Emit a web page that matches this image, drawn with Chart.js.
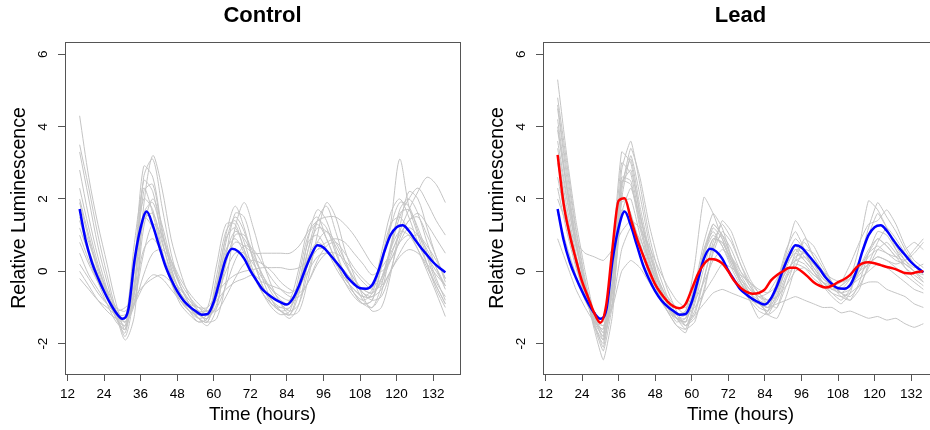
<!DOCTYPE html>
<html>
<head>
<meta charset="utf-8">
<script src="https://cdn.jsdelivr.net/npm/chart.js@4/dist/chart.umd.min.js"></script>
<style>
  html, body { margin: 0; padding: 0; background: #fff; overflow: hidden; width: 930px; height: 430px; }
  .panel { position: absolute; top: 0; width: 478px; height: 430px; }
  #left { left: 0; }
  #right { left: 478px; }
</style>
</head>
<body>
<div class="panel" id="left"><canvas id="controlChart" width="478" height="430"></canvas></div>
<div class="panel" id="right"><canvas id="leadChart" width="478" height="430"></canvas></div>
<script>
// axis ticks and limits
const xTicks = [12, 24, 36, 48, 60, 72, 84, 96, 108, 120, 132];
const yTicks = [-2, 0, 2, 4, 6];
const xMin = 11.2, xMax = 140.8;
const yMin = -2.84, yMax = 6.34;

// time points (hours)
const hoursMean = [16, 18, 20, 22, 24, 26, 28, 30, 32, 34, 36, 38, 40, 42, 44, 46, 48, 50, 52, 54,
  56, 58, 60, 62, 64, 66, 68, 70, 72, 74, 76, 78, 80, 82, 84, 86, 88, 90, 92, 94,
  96, 98, 100, 102, 104, 106, 108, 110, 112, 114, 116, 118, 120, 122, 124, 126, 128, 130, 132, 134, 136];
const hoursTrace = [16, 19, 22, 25, 28, 31, 34, 37, 40, 43, 46, 49, 52, 55, 58, 61, 64, 67, 70, 73,
  76, 79, 82, 85, 88, 91, 94, 97, 100, 103, 106, 109, 112, 115, 118, 121, 124, 127, 130, 133, 136];

// mean curves
const controlMean = [1.72, 0.85, 0.25, -0.18, -0.55, -0.88, -1.15, -1.31, -1.05, 0.3, 1.2, 1.65, 1.27, 0.72, 0.18, -0.22, -0.55, -0.8, -0.97, -1.1,
  -1.2, -1.18, -0.85, -0.25, 0.35, 0.62, 0.55, 0.35, 0.02, -0.25, -0.5, -0.65, -0.77, -0.86, -0.92, -0.75, -0.4, 0.05, 0.45, 0.72,
  0.66, 0.47, 0.27, 0.06, -0.18, -0.35, -0.47, -0.48, -0.38, 0.0, 0.55, 1.0, 1.22, 1.27, 1.12, 0.88, 0.65, 0.45, 0.25, 0.1, -0.03];
const leadMean = [3.22, 1.85, 1.0, 0.33, -0.28, -0.72, -1.15, -1.42, -0.9, 0.65, 1.95, 2.02, 1.45, 0.9, 0.45, 0.02, -0.36, -0.62, -0.83, -0.97,
  -1.02, -0.9, -0.5, -0.08, 0.2, 0.34, 0.32, 0.22, 0.0, -0.27, -0.45, -0.57, -0.62, -0.6, -0.5, -0.25, -0.1, 0.0, 0.1, 0.1,
  0.0, -0.14, -0.3, -0.4, -0.45, -0.4, -0.3, -0.22, -0.1, 0.1, 0.22, 0.25, 0.22, 0.17, 0.12, 0.08, 0.02, -0.05, -0.06, -0.02, 0.0];

// individual traces, control
const controlTraces = [
  [4.3, 2.6, 1.3, 0.2, -0.9, -1.6, 0.2, 2.9, 2.6, 1.2, 0.1, -0.6, -1.0, -1.3, -1.4, -0.4, 1.0, 1.8, 1.2, 0.3, -0.4, -0.8, -1.1, -1.2, -0.4, 0.9, 1.7, 1.4, 0.6, -0.1, -0.6, -0.9, -0.8, 0.1, 1.2, 1.9, 1.8, 1.1, 0.4, -0.3, -0.7],
  [3.5, 2.3, 1.0, -0.1, -1.1, -1.8, -0.5, 2.6, 3.1, 1.8, 0.5, -0.4, -0.9, -1.3, -1.5, -1.0, 0.4, 1.6, 1.5, 0.6, -0.2, -0.8, -1.1, -1.3, -0.9, 0.3, 1.4, 1.8, 1.1, 0.3, -0.3, -0.8, -1.0, -0.6, 0.6, 1.7, 2.0, 1.6, 0.8, 0.1, -0.5],
  [3.3, 2.0, 0.7, -0.3, -1.2, -1.9, -1.2, 1.8, 3.2, 2.3, 0.9, 0.0, -0.7, -1.1, -1.4, -1.3, -0.3, 1.2, 1.9, 1.2, 0.3, -0.4, -0.9, -1.2, -1.1, -0.2, 1.0, 1.9, 1.5, 0.6, -0.1, -0.7, -1.1, -1.0, -0.1, 1.2, 2.2, 2.0, 1.2, 0.4, -0.2],
  [2.8, 1.5, 0.4, -0.5, -1.3, -1.7, 0.0, 2.5, 2.2, 0.9, -0.1, -0.7, -1.1, -1.4, -1.3, -0.1, 1.1, 1.4, 0.8, 0.0, -0.6, -1.0, -1.2, -1.1, -0.1, 1.0, 1.3, 0.9, 0.3, -0.3, -0.7, -0.9, -0.8, 0.2, 1.3, 3.1, 1.8, 1.0, 0.2, -0.5, -1.0],
  [2.3, 1.2, 0.2, -0.6, -1.3, -1.6, -0.4, 2.2, 2.4, 1.1, 0.1, -0.6, -1.0, -1.3, -1.4, -0.6, 0.8, 1.5, 1.1, 0.3, -0.4, -0.9, -1.1, -1.2, -0.6, 0.6, 1.4, 1.2, 0.5, -0.1, -0.6, -0.9, -1.0, -0.4, 0.7, 1.6, 1.7, 1.2, 0.5, -0.2, -0.8],
  [1.9, 0.9, 0.0, -0.7, -1.3, -1.5, 0.3, 2.0, 1.7, 0.6, -0.3, -0.9, -1.2, -1.4, -1.3, -0.3, 0.9, 1.2, 0.6, -0.1, -0.6, -0.9, -1.1, -1.0, -0.3, 0.8, 1.0, 0.6, 0.1, -0.3, -0.6, -0.8, -0.6, 0.3, 1.3, 1.5, 1.1, 0.6, 0.0, -0.6, -1.25],
  [1.5, 0.8, 0.1, -0.5, -1.0, -1.4, -0.9, 1.2, 2.0, 1.3, 0.3, -0.4, -0.9, -1.2, -1.3, -0.9, 0.2, 1.0, 1.0, 0.5, -0.1, -0.6, -0.9, -1.1, -0.9, 0.0, 0.8, 1.1, 0.8, 0.3, -0.2, -0.6, -0.8, -0.7, 0.0, 0.9, 1.4, 1.5, 1.0, 0.4, -0.3],
  [1.0, 0.3, -0.3, -0.9, -1.4, -1.6, 0.1, 1.5, 1.2, 0.4, -0.3, -0.8, -1.1, -1.3, -1.2, -0.4, 0.6, 0.9, 0.5, -0.1, -0.5, -0.8, -1.0, -1.0, -0.5, 0.4, 0.8, 0.6, 0.2, -0.2, -0.5, -0.7, -0.7, -0.2, 0.6, 1.1, 1.0, 0.6, 0.1, -0.4, -0.9],
  [0.8, 0.2, -0.3, -0.7, -1.0, -1.1, -0.6, 0.6, 0.9, 0.5, -0.1, -0.5, -0.8, -1.0, -1.1, -0.7, 0.0, 0.5, 0.5, 0.2, -0.2, -0.5, -0.7, -0.8, -0.5, 0.2, 0.6, 0.6, 0.3, 0.0, -0.3, -0.5, -0.6, -0.3, 0.3, 0.8, 1.0, 0.8, 0.4, 0.0, -0.4],
  [0.2, -0.2, -0.6, -0.9, -1.1, -1.0, -0.7, -0.4, -0.2, -0.1, -0.3, -0.6, -0.9, -1.0, -1.0, -0.6, -0.3, -0.1, 0.0, 0.05, 0.1, 0.1, 0.1, 0.05, 0.1, 0.3, 0.6, 0.8, 0.9, 0.8, 0.5, 0.2, -0.1, 0.1, 0.5, 1.0, 1.4, 1.6, 1.3, 0.9, 0.5],
  [-0.2, -0.5, -0.8, -1.0, -1.2, -1.2, -0.9, -0.4, -0.1, -0.2, -0.5, -0.8, -1.0, -1.1, -1.1, -0.8, -0.5, -0.3, -0.2, -0.1, -0.3, -0.4, -0.5, -0.6, -0.4, 0.0, 0.4, 0.5, 0.3, 0.0, -0.3, -0.6, -0.7, -0.5, 0.0, 0.4, 0.6, 0.5, 0.2, -0.1, -0.4],
  [0.5, -0.1, -0.5, -0.9, -1.2, -1.4, -0.8, 0.5, 1.3, 1.0, 0.3, -0.3, -0.7, -1.0, -1.2, -1.0, -0.4, 0.3, 0.7, 0.6, 0.2, -0.2, -0.5, -0.7, -0.7, -0.3, 0.3, 0.7, 0.8, 0.5, 0.1, -0.2, -0.4, -0.2, 0.4, 1.1, 1.7, 2.2, 2.6, 2.4, 1.9],
  [1.2, 0.5, -0.1, -0.6, -1.1, -1.4, -0.3, 1.6, 1.9, 1.0, 0.2, -0.4, -0.8, -1.1, -1.2, -0.5, 0.5, 1.1, 0.9, 0.4, -0.1, -0.5, -0.8, -0.9, -0.4, 0.6, 1.2, 1.1, 0.7, 0.2, -0.2, -0.5, -0.6, -0.2, 0.6, 1.5, 2.0, 2.3, 1.9, 1.4, 1.0],
  [1.4, 0.6, -0.1, -0.7, -1.2, -1.5, -0.6, 1.4, 1.6, 0.8, 0.0, -0.6, -1.0, -1.2, -1.3, -0.7, 0.3, 0.8, 0.7, 0.5, 0.5, 0.5, 0.5, 0.5, 0.7, 1.1, 1.4, 1.5, 1.5, 1.3, 1.0, 0.6, 0.2, 0.0, 0.3, 0.8, 1.2, 1.0, 0.6, 0.1, -0.4],
  [2.0, 1.0, 0.1, -0.6, -1.2, -1.3, 0.8, 2.3, 1.6, 0.5, -0.3, -0.8, -1.1, -1.2, -1.0, 0.2, 1.3, 1.3, 0.6, -0.1, -0.6, -0.9, -1.0, -0.8, 0.1, 1.2, 1.5, 0.9, 0.3, -0.2, -0.5, -0.7, -0.5, 0.5, 1.6, 2.0, 1.5, 0.8, 0.2, -0.4, -0.9],
  [0.0, -0.4, -0.8, -1.1, -1.3, -1.3, -0.9, -0.1, 0.5, 0.6, 0.3, -0.2, -0.6, -0.9, -1.1, -1.1, -0.7, -0.2, 0.2, 0.3, 0.2, 0.0, -0.3, -0.5, -0.6, -0.3, 0.2, 0.5, 0.5, 0.3, 0.0, -0.3, -0.5, -0.4, 0.0, 0.5, 0.9, 1.0, 0.7, 0.3, -0.2]
];

// individual traces, lead
const leadTraces = [
  [5.3, 3.2, 1.4, 0.0, -1.2, -1.9, 0.5, 3.3, 3.0, 1.6, 0.4, -0.5, -1.1, -1.5, -1.6, -0.8, 0.4, 1.2, 0.9, 0.3, -0.3, -0.7, -1.0, -1.1, -0.6, 0.2, 0.7, 0.4, 0.1, -0.3, -0.6, -0.8, -0.5, 0.1, 0.6, 0.9, 0.7, 0.4, 0.1, -0.1, -0.3],
  [4.8, 3.0, 1.2, -0.2, -1.4, -2.1, -0.5, 2.8, 3.6, 2.4, 1.0, 0.0, -0.7, -1.2, -1.5, -1.2, -0.2, 0.8, 1.3, 0.9, 0.2, -0.4, -0.8, -1.2, -1.0, -0.2, 0.5, 0.8, 0.4, 0.0, -0.4, -0.7, -0.8, -0.3, 0.5, 1.1, 1.0, 0.6, 0.3, 0.1, 0.2],
  [4.5, 2.6, 0.9, -0.5, -1.6, -2.45, -1.2, 2.2, 3.4, 2.6, 1.3, 0.3, -0.5, -1.1, -1.5, -1.3, -0.6, 0.6, 1.4, 1.1, 0.4, -0.2, -0.6, -0.9, -1.0, -0.4, 0.3, 0.9, 0.7, 0.2, -0.3, -0.6, -0.8, -0.5, 0.2, 0.8, 1.2, 0.9, 0.5, 0.2, 0.0],
  [4.2, 2.4, 0.9, -0.4, -1.4, -1.8, 0.2, 3.0, 2.7, 1.4, 0.3, -0.5, -1.0, -1.4, -1.3, -0.4, 0.8, 1.6, 1.2, 0.4, -0.3, -0.8, -1.3, -1.1, -0.3, 0.6, 1.1, 0.6, 0.0, -0.4, -0.7, -0.9, -0.6, 0.3, 1.0, 1.6, 1.2, 0.7, 0.3, 0.0, -0.1],
  [3.9, 2.3, 0.8, -0.5, -1.5, -2.0, -0.3, 2.5, 2.4, 1.2, 0.2, -0.6, -1.1, -1.5, -1.7, -0.9, 0.1, 0.9, 0.8, 0.3, -0.2, -0.6, -0.9, -1.0, -0.7, -0.1, 0.4, 0.5, 0.2, -0.1, -0.4, -0.5, -0.4, 0.0, 0.4, 0.6, 0.5, 0.3, 0.2, 0.0, -0.2],
  [3.6, 2.1, 0.7, -0.4, -1.3, -1.7, -0.6, 2.4, 2.8, 1.6, 0.5, -0.3, -0.9, -1.2, -1.1, 0.2, 2.05, 1.6, 0.9, 0.2, -0.3, -0.7, -0.9, -1.0, -0.5, 0.4, 0.9, 0.6, 0.2, -0.2, -0.4, -0.6, -0.5, 0.0, 0.5, 0.9, 0.7, 0.4, 0.3, 0.5, 0.8],
  [3.2, 1.8, 0.5, -0.6, -1.5, -1.9, -0.8, 1.6, 2.3, 1.5, 0.6, -0.2, -0.8, -1.3, -1.5, -1.1, -0.2, 0.7, 1.0, 0.6, 0.0, -0.4, -0.7, -0.6, -0.2, 0.3, 0.6, 0.3, 0.0, -0.3, -0.5, -0.4, -0.1, 0.3, 1.2, 1.9, 1.5, 1.1, 0.6, 0.2, -0.1],
  [3.0, 1.6, 0.4, -0.6, -1.4, -1.6, 0.4, 2.1, 1.6, 0.7, -0.1, -0.7, -1.1, -1.3, -1.2, -0.5, 0.6, 1.1, 0.7, 0.1, -0.4, -0.8, -1.1, -1.2, -0.7, 0.1, 0.6, 0.5, 0.1, -0.2, -0.4, -0.3, 0.2, 0.8, 1.3, 1.4, 1.7, 1.3, 0.7, 0.3, 0.1],
  [2.6, 1.3, 0.2, -0.7, -1.4, -1.6, -0.4, 1.9, 2.0, 1.0, 0.1, -0.6, -1.0, -1.3, -1.3, -0.7, 0.3, 0.9, 0.8, 0.3, -0.2, -0.5, -0.7, -0.8, -0.5, 0.0, 0.3, 0.2, -0.1, -0.3, -0.5, -0.6, -0.4, -0.1, 0.2, 0.4, 0.3, 0.1, -0.1, -0.3, -0.5],
  [2.0, 1.3, 0.8, 0.5, 0.4, 0.3, 0.6, 1.1, 1.4, 1.2, 0.7, 0.1, -0.4, -0.8, -1.0, -0.8, -0.3, 0.3, 0.6, 0.4, 0.0, -0.3, -0.5, -0.6, -0.4, 0.0, 0.3, 0.4, 0.2, 0.0, -0.2, -0.3, -0.2, 0.0, 0.2, 0.4, 0.3, 0.2, 0.3, 0.6, 0.9],
  [1.6, 0.7, -0.1, -0.8, -1.3, -1.5, -0.9, 0.6, 1.2, 0.9, 0.3, -0.3, -0.7, -1.0, -1.2, -1.0, -0.6, -0.2, 0.2, 0.1, -0.1, -0.3, -0.6, -0.8, -0.7, -0.4, 0.0, 0.1, -0.1, -0.3, -0.4, -0.5, -0.4, -0.2, 0.0, 0.2, 0.1, -0.1, -0.3, -0.5, -0.6],
  [0.9, 0.2, -0.5, -1.0, -1.4, -1.5, -1.0, 0.0, 0.3, 0.1, -0.3, -0.7, -1.0, -1.3, -1.4, -1.2, -0.9, -0.6, -0.5, -0.6, -0.7, -0.8, -0.9, -1.0, -0.9, -0.8, -0.7, -0.8, -0.9, -1.0, -1.0, -1.15, -1.1, -1.2, -1.3, -1.25, -1.35, -1.3, -1.45, -1.55, -1.45],
  [3.4, 2.0, 0.7, -0.3, -1.2, -1.7, -0.2, 2.6, 2.5, 1.3, 0.3, -0.4, -0.9, -1.3, -1.4, -0.6, 0.5, 1.3, 1.0, 0.4, -0.2, -0.6, -0.9, -1.1, -0.8, -0.2, 0.2, 0.1, -0.2, -0.4, -0.6, -0.7, -0.6, -0.4, -0.3, -0.3, -0.5, -0.6, -0.7, -0.9, -1.0],
  [4.0, 2.3, 0.8, -0.4, -1.3, -1.8, -0.4, 2.4, 3.1, 1.8, 0.6, -0.3, -0.9, -1.3, -1.4, -0.7, 0.6, 1.3, 1.0, 0.4, -0.1, -0.5, -0.7, -0.9, -0.3, 0.5, 1.4, 1.0, 0.4, 0.0, -0.3, -0.5, -0.2, 0.7, 1.95, 1.7, 1.2, 0.6, 0.1, -0.2, -0.4],
  [2.3, 1.1, 0.1, -0.7, -1.3, -1.4, 0.0, 1.7, 1.5, 0.8, 0.0, -0.6, -1.0, -1.2, -1.1, -0.4, 0.5, 1.0, 0.7, 0.2, -0.3, -0.6, -0.8, -0.9, -0.5, 0.2, 0.5, 0.3, 0.0, -0.3, -0.5, -0.4, -0.2, 0.1, 0.5, 0.7, 0.5, 0.4, 0.6, 0.8, 0.6],
  [4.6, 2.8, 1.1, -0.3, -1.5, -2.2, -0.9, 2.0, 3.2, 2.1, 0.8, -0.2, -0.8, -1.3, -1.6, -1.4, -0.5, 0.5, 1.1, 0.8, 0.2, -0.3, -0.8, -1.2, -1.3, -0.7, 0.1, 0.6, 0.5, 0.1, -0.3, -0.6, -0.7, -0.4, 0.1, 0.6, 0.8, 0.5, 0.2, 0.0, -0.3]
];

Chart.defaults.font.family = '"Liberation Sans", Arial, sans-serif';
Chart.defaults.color = '#000';

const toPoints = (hours, vals) => hours.map((t, i) => ({ x: t, y: vals[i] }));

const boxPlugin = {
  id: 'plotBox',
  afterDraw(chart) {
    const { ctx, chartArea: a } = chart;
    ctx.save();
    ctx.strokeStyle = '#555';
    ctx.lineWidth = 1;
    ctx.strokeRect(Math.round(a.left) + 0.5, Math.round(a.top) + 0.5,
      Math.round(a.right - a.left), Math.round(a.bottom - a.top));
    ctx.restore();
  }
};

function traceSet(vals, tension) {
  return {
    data: toPoints(hoursTrace, vals),
    borderColor: 'rgb(196,196,196)',
    borderWidth: 1,
    pointRadius: 0,
    tension: tension
  };
}

function meanSet(vals, color) {
  return {
    data: toPoints(hoursMean, vals),
    borderColor: color,
    borderWidth: 2.5,
    pointRadius: 0,
    cubicInterpolationMode: 'monotone'
  };
}

function makeChart(canvasId, title, datasets) {
  const ctx = document.getElementById(canvasId).getContext('2d');
  return new Chart(ctx, {
    type: 'line',
    data: { datasets: datasets },
    options: {
      responsive: false,
      animation: false,
      layout: { padding: { left: 0, right: 18, top: 0, bottom: 0 } },
      plugins: {
        legend: { display: false },
        tooltip: { enabled: false },
        title: {
          display: true,
          text: title,
          fullSize: false,
          font: { size: 22, weight: 'bold' },
          padding: { top: 2.8, bottom: 12.8 }
        }
      },
      scales: {
        x: {
          type: 'linear',
          min: xMin,
          max: xMax,
          afterBuildTicks: (s) => { s.ticks = xTicks.map(v => ({ value: v })); },
          afterFit: (s) => { s.height = 56; },
          border: { display: false },
          grid: { drawOnChartArea: false, drawTicks: true, tickLength: 7, tickColor: '#555' },
          ticks: { font: { size: 13.5 }, padding: 5, maxRotation: 0, autoSkip: false, callback: v => String(v) },
          title: { display: true, text: 'Time (hours)', font: { size: 19 }, padding: { top: 0, bottom: 3.6 } }
        },
        y: {
          type: 'linear',
          min: yMin,
          max: yMax,
          afterBuildTicks: (s) => { s.ticks = yTicks.map(v => ({ value: v })); },
          afterFit: (s) => { s.width = 65; },
          border: { display: false },
          grid: { drawOnChartArea: false, drawTicks: true, tickLength: 7, tickColor: '#555' },
          ticks: { font: { size: 13.5 }, padding: 9, minRotation: 90, maxRotation: 90, crossAlign: 'center', callback: v => String(v) },
          title: { display: true, text: 'Relative Luminescence', font: { size: 19.5 }, padding: { top: 8.3, bottom: 0 } }
        }
      }
    },
    plugins: [boxPlugin]
  });
}

// first dataset is painted on top
makeChart('controlChart', 'Control',
  [meanSet(controlMean, '#0000ff')].concat(controlTraces.map(v => traceSet(v, 0.3))));

makeChart('leadChart', 'Lead',
  [meanSet(leadMean, '#ff0000'), meanSet(controlMean, '#0000ff')].concat(leadTraces.map(v => traceSet(v, 0.15))));
</script>
</body>
</html>
